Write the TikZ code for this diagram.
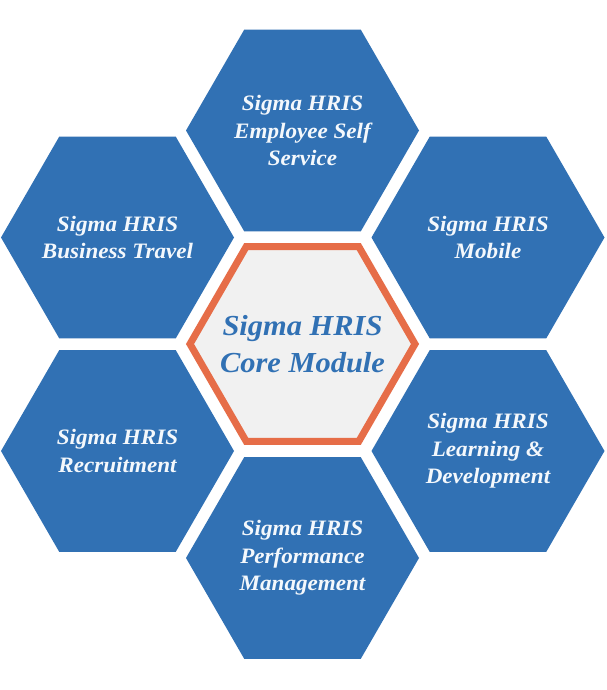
\documentclass[tikz,border=0pt]{standalone}
\usepackage{fontspec}
\setmainfont[FakeStretch=1.05]{Liberation Serif}
\usetikzlibrary{shapes.geometric}
\definecolor{hexblue}{HTML}{3171B4}
\definecolor{hexorange}{HTML}{E66D48}
\definecolor{corefill}{HTML}{F1F1F1}
\definecolor{hextext}{HTML}{F4F8FC}
\tikzset{
  hexbox/.style={regular polygon, regular polygon sides=6, minimum size=233pt,
    inner sep=0pt, outer sep=0pt, fill=hexblue, draw=none},
  corebox/.style={regular polygon, regular polygon sides=6, minimum size=225pt,
    inner sep=0pt, outer sep=0pt, fill=corefill, draw=hexorange, line width=7pt},
  hexlabel/.style={text=hextext, align=center, inner sep=0pt,
    font=\fontsize{22}{27.5}\selectfont\bfseries\itshape},
  corelabel/.style={text=hexblue, align=center, inner sep=0pt,
    font=\fontsize{29}{36.7}\selectfont\bfseries\itshape}
}
\begin{document}
\begin{tikzpicture}[x=1pt,y=-1pt]
\useasboundingbox (0,0) rectangle (606,690);
\fill[white] (0,0) rectangle (606,690);
\node[hexbox] (ess) at (302.5,130.5) {};
\node[hexbox] (travel) at (117.5,237.5) {};
\node[hexbox] (mobile) at (488,237.5) {};
\node[hexbox] (recruit) at (117.5,451) {};
\node[hexbox] (learn) at (488,451) {};
\node[hexbox] (perf) at (302.5,558) {};
\node[corebox] (core) at (302.5,344) {};
\node[hexlabel] (ess-t) at (ess.center) {Sigma HRIS\\Employee Self\\Service};
\node[hexlabel] (travel-t) at (travel.center) {Sigma HRIS\\Business Travel};
\node[hexlabel] (mobile-t) at (mobile.center) {Sigma HRIS\\Mobile};
\node[hexlabel] (recruit-t) at (recruit.center) {Sigma HRIS\\Recruitment};
\node[hexlabel] (learn-t) at (learn.center) {Sigma HRIS\\Learning \&\\Development};
\node[hexlabel] (perf-t) at (perf.center) {Sigma HRIS\\Performance\\Management};
\node[corelabel] (core-t) at (core.center) {Sigma HRIS\\Core Module};
\end{tikzpicture}
\end{document}
